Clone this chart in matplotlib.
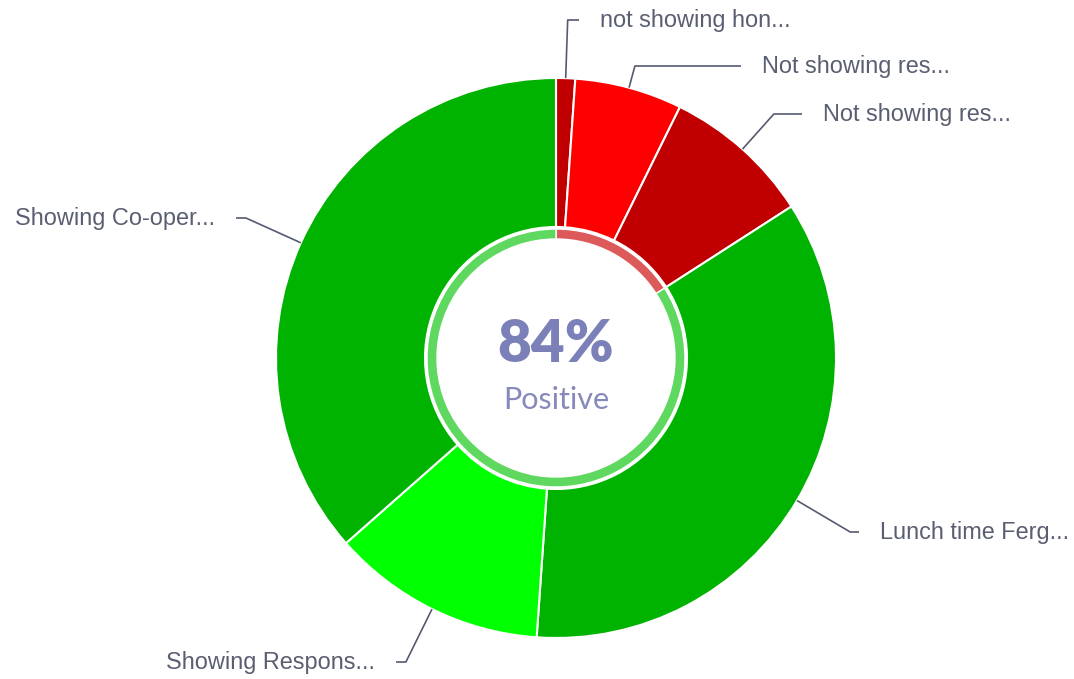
import numpy as np
import matplotlib
matplotlib.use("Agg")
import matplotlib.pyplot as plt

# slice data, clockwise from 12 o'clock
labels = ["not showing hon...", "Not showing res...", "Not showing res...",
          "Lunch time Ferg...", "Showing Respons...", "Showing Co-oper..."]
values = [1.1, 6.2, 8.6, 35.2, 12.4, 36.5]
positive = [False, False, False, True, True, True]
colors = ["#c00000", "#ff0000", "#c00000", "#00b300", "#00ff00", "#00b300"]

# label placement (pixels from top-left of the image)
label_y = [20, 66, 114, 532, 662, 218]
label_x = [600, 762, 823, 880, 375, 215]

W, H = 1074, 679
cx, cy = 556, H - 358
R = 280

fig = plt.figure(figsize=(W / 100, H / 100), dpi=100)
ax = fig.add_axes([0, 0, 1, 1])

ax.pie(values, colors=colors, startangle=90, counterclock=False,
       radius=R, center=(cx, cy),
       wedgeprops=dict(width=R - 131, edgecolor="white", linewidth=1.5))

pos_share = sum(v for v, p in zip(values, positive) if p) / sum(values) * 100
ax.pie([100 - pos_share, pos_share], colors=["#dd5a5a", "#5fd85f"],
       startangle=90, counterclock=False, radius=129, center=(cx, cy),
       wedgeprops=dict(width=10, edgecolor="white", linewidth=1))

ax.set_xlim(0, W)
ax.set_ylim(0, H)
ax.set_aspect("equal")
ax.axis("off")

# leader lines and labels
total = sum(values)
cum = np.cumsum(values) - np.array(values) / 2
for lab, c, ly, lx in zip(labels, cum, label_y, label_x):
    t = np.deg2rad(c / total * 360)
    ex, ey = cx + R * np.sin(t), cy + R * np.cos(t)
    ty = H - ly
    s = (ty - ey) / np.cos(t)
    bx = ex + s * np.sin(t)
    right = np.sin(t) > 0
    hx = lx - 21 if right else lx + 21
    ax.plot([ex, bx, hx], [ey, ty, ty], color="#555a70", lw=1.2,
            solid_capstyle="butt")
    ax.text(lx, ty, lab, ha="left" if right else "right", va="center",
            fontsize=16.9, family="Liberation Sans", color="#5a5e72")

ax.text(cx, H - 345, f"{pos_share:.0f}%", ha="center", va="center",
        fontsize=42, fontweight="heavy", family="Lato", color="#7b80b8")
ax.text(cx, H - 400, "Positive", ha="center", va="center",
        fontsize=22, family="Lato", color="#8589bb")

fig.savefig("out.png", dpi=100)
